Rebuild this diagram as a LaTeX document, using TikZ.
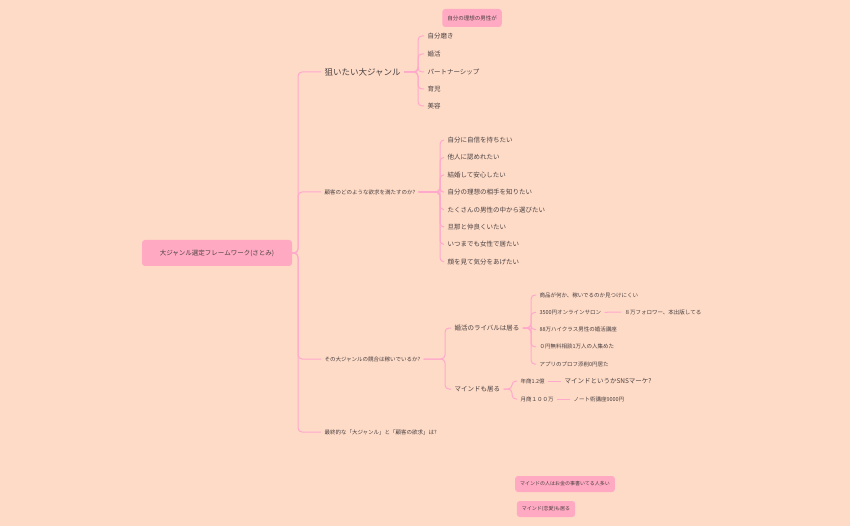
\documentclass[tikz,border=0pt]{standalone}
\usepackage{fontspec}
\setmainfont{Noto Sans CJK JP}
\begin{document}
\begin{tikzpicture}[x=1pt,y=-1pt,
  conn/.style={draw=linec,line width=1pt,rounded corners=4pt},
  lbl/.style={anchor=west,inner sep=1pt,outer sep=2.5pt,text=txt,font=\fontsize{5.5}{6}\selectfont},
  big/.style={lbl,font=\fontsize{8.5}{9}\selectfont},
  mid/.style={lbl,font=\fontsize{6.5}{7}\selectfont},
  boxn/.style={fill=boxc,rounded corners=3pt,text=txt,inner xsep=5pt,inner ysep=4pt,font=\fontsize{5.5}{6}\selectfont}]
\definecolor{bg}{HTML}{FEDBC7}
\definecolor{linec}{HTML}{FFA8CC}
\definecolor{boxc}{HTML}{FFA9C3}
\definecolor{txt}{HTML}{4A4040}
\fill[bg] (0,0) rectangle (850,526);
\useasboundingbox (0,0) rectangle (850,526);
\node[boxn,minimum width=150pt,minimum height=26pt,font=\fontsize{6.5}{7}\selectfont] (root) at (217,253) {大ジャンル選定フレームワーク(さとみ)};
\node[big] (a) at (321,72) {狙いたい大ジャンル};
\node[lbl] (b) at (321,192) {顧客のどのような欲求を満たすのか?};
\node[lbl] (c) at (321,359) {その大ジャンルの競合は稼いでいるか?};
\node[lbl] (d) at (321,432) {最終的な「大ジャンル」と「顧客の欲求」は?};
\foreach \n in {a,b,c,d} \draw[conn] (root.east) -- (298,253) |- (\n.west);
% a children
\node[mid] (a1) at (424,36) {自分磨き};
\node[mid] (a2) at (424,54) {婚活};
\node[mid] (a3) at (424,72) {パートナーシップ};
\node[mid] (a4) at (424,89) {育児};
\node[mid] (a5) at (424,106) {美容};
\foreach \n in {a1,a2,a3,a4,a5} \draw[conn] (a.east) -- (418,72) |- (\n.west);
% b children
\foreach \t [count=\i] in {自分に自信を持ちたい,他人に認めれたい,結婚して安心したい,自分の理想の相手を知りたい,たくさんの男性の中から選びたい,旦那と仲良くいたい,いつまでも女性で居たい,顔を見て気分をあげたい}{
  \node[mid] (b\i) at (444,{140+(\i-1)*17.4}) {\t};
  \draw[conn] (b.east) -- (440,192) |- (b\i.west);
}
% c children
\node[mid] (c1) at (451,328) {婚活のライバルは居る};
\node[mid] (c2) at (451,389) {マインドも居る};
\foreach \n in {c1,c2} \draw[conn] (c.east) -- (445,359) |- (\n.west);
\foreach \t [count=\i] in {商品が何か、稼いでるのか見つけにくい,3500円オンラインサロン,88万ハイクラス男性の婚活講座,０円無料相談1万人の人集めた,アプリのプロフ添削0円居た}{
  \node[lbl] (e\i) at (536,{295+(\i-1)*17.3}) {\t};
  \draw[conn] (c1.east) -- (531,328) |- (e\i.west);
}
\node[lbl] (e2x) at (621,312) {８万フォロワー、本出版してる};
\draw[conn] (e2.east) -- (e2x.west);
\node[lbl] (f1) at (517,381) {年商1.2億};
\node[lbl] (f2) at (517,399) {月商１００万};
\foreach \n in {f1,f2} \draw[conn] (c2.east) -- (512,389) |- (\n.west);
\node[mid] (f1x) at (561,381) {マインドというかSNSマーケ?};
\node[lbl] (f2x) at (570,399) {ノート術講座9000円};
\draw[conn] (f1.east) -- (f1x.west);
\draw[conn] (f2.east) -- (f2x.west);
% floating
\node[boxn,minimum height=18pt] (g1) at (472,18) {自分の理想の男性が};
\node[boxn,minimum height=16pt,font=\fontsize{5}{5.5}\selectfont] (g2) at (565,484) {マインドの人はお金の事書いてる人多い};
\node[boxn,minimum height=16pt,font=\fontsize{5}{5.5}\selectfont] (g3) at (546,509) {マインド(恋愛)も居る};
\end{tikzpicture}
\end{document}
